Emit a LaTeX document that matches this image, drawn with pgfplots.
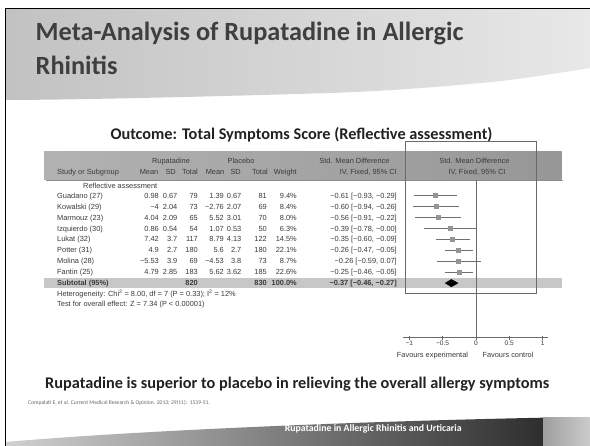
\documentclass[border=0pt]{standalone}
\usepackage{pgfplots}
\pgfplotsset{compat=1.18}
\usepackage{pgfplotstable}
\usepackage{fontspec}
\setmainfont{Liberation Sans}
\newfontfamily\calfont{Carlito}
\definecolor{titlegray}{HTML}{3F3F3F}
\definecolor{subgray}{HTML}{222222}
\definecolor{tablegray}{HTML}{3A3A3A}
\definecolor{cigray}{HTML}{707070}
\definecolor{markgray}{HTML}{959595}
\definecolor{boxgray}{HTML}{6A6A6A}

\pgfplotstableread{
est lo hi y ms
-0.61 -0.93 -0.29 250.5 0.85
-0.60 -0.94 -0.26 239.5 0.8
-0.56 -0.91 -0.22 228.6 0.8
-0.39 -0.78 -0.00 217.6 0.72
-0.35 -0.60 -0.09 206.7 1.05
-0.26 -0.47 -0.05 195.7 1.3
-0.26 -0.59 0.07 184.8 0.82
-0.25 -0.46 -0.05 173.8 1.3
}\forestdata

\newcommand{\tf}{\fontsize{7.4}{8.8}\selectfont}

\begin{document}
\begin{tikzpicture}
\begin{scope}[x=1pt,y=1pt,
  tx/.style={font=\tf, text=tablegray, inner sep=0pt}]
\useasboundingbox (0,0) rectangle (590,446);
\fill[white] (0,0) rectangle (590,446);
% header swoosh
\shade[left color=black!24, right color=black!9]
  (5.3,437.7) -- (590,437.7) -- (590,378)
  .. controls (540,370) and (500,364) .. (480,363)
  .. controls (420,357) and (360,354) .. (330,353)
  .. controls (200,349) and (60,346) .. (5.3,346) -- cycle;
% footer band
\shade[left color=black!18, middle color=black!62, right color=black!82]
  (5.3,0) -- (5.3,4) .. controls (120,14) and (330,24) .. (543,28.3) -- (543,0) -- cycle;
\shade[left color=black!38, right color=black!20] (543,0) rectangle (590,28.3);
% frame
\draw[black, line width=1.1pt] (5.3,0) -- (5.3,437.7) -- (590,437.7);

% titles
\node[anchor=base west, inner sep=0pt, text=titlegray, font=\calfont\bfseries\fontsize{26.3}{30}\selectfont] at (35.5,446-41) {Meta-Analysis of Rupatadine in Allergic};
\node[anchor=base west, inner sep=0pt, text=titlegray, font=\calfont\bfseries\fontsize{26.3}{30}\selectfont] at (35.5,446-75) {Rhinitis};
\node[anchor=mid, inner sep=0pt, text=subgray, font=\calfont\bfseries\fontsize{16.3}{19}\selectfont] at (301.5,446-137) {Outcome: Total Symptoms Score (Reflective assessment)};

% table header band
\shade[left color=black!30, right color=black!41] (44,446-180) rectangle (561.7,446-151.7);
\fill[black!45] (46,446-181.3) rectangle (563,446-180);
% subtotal band
\fill[black!22] (44,446-288.5) rectangle (561.7,446-277.8);
% forest box
\draw[boxgray, line width=0.6pt] (405,446-293) rectangle (536.7,446-141.7);

% header text
\node[tx, anchor=mid] at (171,446-161) {Rupatadine};
\node[tx, anchor=mid] at (241,446-161) {Placebo};
\node[tx, anchor=mid] at (354.5,446-161) {Std. Mean Difference};
\node[tx, anchor=mid east] at (397,446-172) {IV, Fixed, 95\% CI};
\node[tx, anchor=mid] at (474.5,446-161) {Std. Mean Difference};
\node[tx, anchor=mid] at (477,446-172) {IV, Fixed, 95\% CI};
\node[tx, anchor=mid west] at (57,446-172) {Study or Subgroup};
\node[tx, anchor=mid east] at (158.5,446-172) {Mean};
\node[tx, anchor=mid east] at (176,446-172) {SD};
\node[tx, anchor=mid east] at (198,446-172) {Total};
\node[tx, anchor=mid east] at (224.5,446-172) {Mean};
\node[tx, anchor=mid east] at (241,446-172) {SD};
\node[tx, anchor=mid east] at (268,446-172) {Total};
\node[tx, anchor=mid east] at (297,446-172) {Weight};
\node[tx, anchor=mid west] at (83,446-185.5) {Reflective assessment};

\foreach \py/\nm/\ma/\sa/\na/\mb/\sb/\nb/\wt/\ci in {
195.5/Guadano (27)/0.98/0.67/79/1.39/0.67/81/9.4/{−0.61 [−0.93, −0.29]},
206.5/Kowalski (29)/−4/2.04/73/−2.76/2.07/69/8.4/{−0.60 [−0.94, −0.26]},
217.4/Marmouz (23)/4.04/2.09/65/5.52/3.01/70/8.0/{−0.56 [−0.91, −0.22]},
228.4/Izquierdo (30)/0.86/0.54/54/1.07/0.53/50/6.3/{−0.39 [−0.78, −0.00]},
239.3/Lukat (32)/7.42/3.7/117/8.79/4.13/122/14.5/{−0.35 [−0.60, −0.09]},
250.3/Potter (31)/4.9/2.7/180/5.6/2.7/180/22.1/{−0.26 [−0.47, −0.05]},
261.2/Molina (28)/−5.53/3.9/69/−4.53/3.8/73/8.7/{−0.26 [−0.59, 0.07]},
272.2/Fantin (25)/4.79/2.85/183/5.62/3.62/185/22.6/{−0.25 [−0.46, −0.05]}}{
  \node[tx, anchor=mid west] at (57,446-\py) {\nm};
  \node[tx, anchor=mid east] at (159,446-\py) {\ma};
  \node[tx, anchor=mid east] at (177.5,446-\py) {\sa};
  \node[tx, anchor=mid east] at (198,446-\py) {\na};
  \node[tx, anchor=mid east] at (224,446-\py) {\mb};
  \node[tx, anchor=mid east] at (241.5,446-\py) {\sb};
  \node[tx, anchor=mid east] at (267,446-\py) {\nb};
  \node[tx, anchor=mid east] at (297,446-\py) {\wt\%};
  \node[tx, anchor=mid east] at (397,446-\py) {\ci};
}
\node[tx, anchor=mid west, font=\tf\bfseries] at (57,446-283.1) {Subtotal (95\%)};
\node[tx, anchor=mid east, font=\tf\bfseries] at (198,446-283.1) {820};
\node[tx, anchor=mid east, font=\tf\bfseries] at (267,446-283.1) {830};
\node[tx, anchor=mid east, font=\tf\bfseries] at (297,446-283.1) {100.0\%};
\node[tx, anchor=mid east, font=\tf\bfseries] at (397,446-283.1) {−0.37 [−0.46, −0.27]};
\node[tx, anchor=mid west] at (57,446-293.5) {Heterogeneity: Chi\textsuperscript{2} = 8.00, df = 7 (P = 0.33); I\textsuperscript{2} = 12\%};
\node[tx, anchor=mid west] at (57,446-303.5) {Test for overall effect: Z = 7.34 (P < 0.00001)};

\node[tx, anchor=mid] at (432.5,446-355) {Favours experimental};
\node[tx, anchor=mid] at (508,446-355) {Favours control};

% conclusion & citation
\node[anchor=mid west, inner sep=0pt, text=subgray, font=\calfont\bfseries\fontsize{16.3}{19}\selectfont] at (45,446-385.7) {Rupatadine is superior to placebo in relieving the overall allergy symptoms};
\node[anchor=mid west, inner sep=0pt, text=black!60, font=\calfont\fontsize{5.6}{7}\selectfont] at (28,446-401.9) {Compalati E, et al. Current Medical Research \& Opinion. 2013; 29(11):\ \ 1539-51.};
\node[anchor=mid, inner sep=0pt, text=white, font=\calfont\bfseries\fontsize{9.8}{12}\selectfont] at (373.2,446-429) {Rupatadine in Allergic Rhinitis and Urticaria};
\end{scope}

% forest axis
\begin{axis}[
  at={(403.3pt,108.3pt)}, anchor=south west,
  scale only axis, width=144.7pt, height=157.7pt,
  xmin=-1.09, xmax=1.08, ymin=108.3, ymax=266,
  axis x line=bottom, axis y line=none,
  axis line style={-, draw=boxgray, line width=0.6pt},
  xtick={-1,-0.5,0,0.5,1},
  xticklabels={−1,−0.5,0,0.5,1},
  tick align=center, major tick length=4pt,
  tick style={draw=boxgray, line width=0.6pt},
  xticklabel style={font=\fontsize{6.6}{7}\selectfont, text=tablegray, inner sep=1pt},
  clip=false,
]
\addplot[draw=boxgray, line width=0.6pt] coordinates {(0,108.3) (0,266)};
\addplot[only marks, mark=none,
  error bars/.cd, x dir=both, x explicit, error mark=none,
  error bar style={draw=cigray, line width=0.5pt}]
  table[x=est, y=y, x error plus expr=\thisrow{hi}-\thisrow{est}, x error minus expr=\thisrow{est}-\thisrow{lo}] {\forestdata};
\addplot[scatter, only marks, mark=square*,
  visualization depends on={\thisrow{ms} \as \msz},
  scatter/@pre marker code/.append style={/tikz/mark size=\msz},
  scatter/use mapped color={draw=markgray, fill=markgray}]
  table[x=est, y=y] {\forestdata};
\addplot[fill=black, draw=black] coordinates {(-0.46,162.9) (-0.37,166.6) (-0.27,162.9) (-0.37,159.2)} -- cycle;
\end{axis}
\end{tikzpicture}
\end{document}
